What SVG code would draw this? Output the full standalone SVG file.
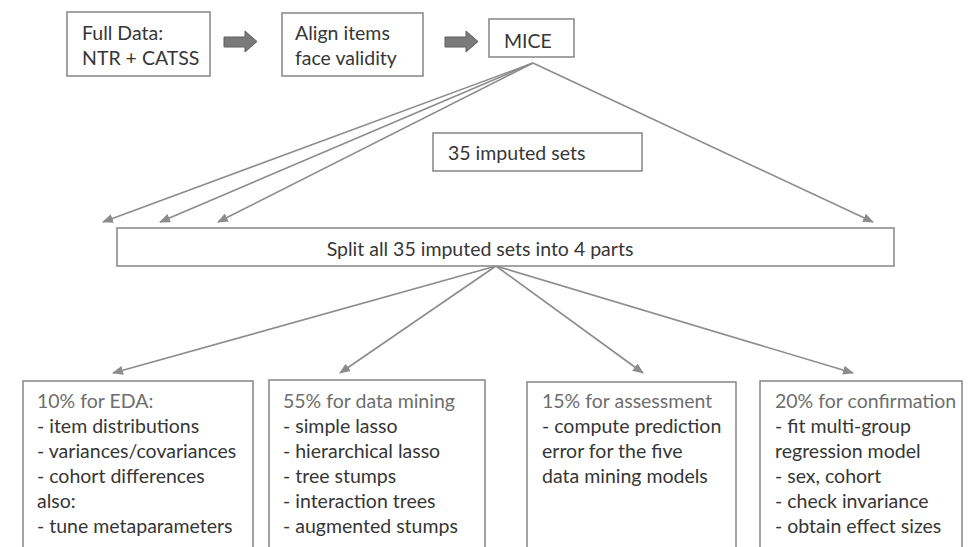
<svg xmlns="http://www.w3.org/2000/svg" width="970" height="547" viewBox="0 0 970 547">
<style>
  .box { fill: #ffffff; stroke: #8c8c8c; stroke-width: 1.6; }
  .t { font-family: Lato, "Open Sans", "Liberation Sans", sans-serif; font-size: 19.5px; fill: #363636; }
  .h { fill: #6e6e6e; }
  .conn { stroke: #8c8c8c; stroke-width: 1.6; fill: none; }
  .blk { fill: #7a7a7a; stroke: #5e5e5e; stroke-width: 1; }
</style>
<defs>
  <marker id="ah" markerWidth="11" markerHeight="9" refX="10" refY="4.5" orient="auto" markerUnits="userSpaceOnUse">
    <path d="M0,0 L11,4.5 L0,9 Z" fill="#8c8c8c"/>
  </marker>
</defs>
<rect width="970" height="547" fill="#ffffff"/>

<g id="connectors">
  <path class="blk" d="M224,37 L245,37 L245,31 L257,41.5 L245,52 L245,47 L224,47 Z"/>
  <path class="blk" d="M445,37 L466,37 L466,31 L478,41.5 L466,52 L466,47 L445,47 Z"/>
  <line class="conn" x1="533" y1="63" x2="103" y2="222" marker-end="url(#ah)"/>
  <line class="conn" x1="533" y1="63" x2="160" y2="222" marker-end="url(#ah)"/>
  <line class="conn" x1="533" y1="63" x2="218" y2="222" marker-end="url(#ah)"/>
  <line class="conn" x1="533" y1="63" x2="873" y2="222" marker-end="url(#ah)"/>
  <line class="conn" x1="496" y1="266" x2="113" y2="373" marker-end="url(#ah)"/>
  <line class="conn" x1="496" y1="266" x2="340" y2="373" marker-end="url(#ah)"/>
  <line class="conn" x1="496" y1="266" x2="643" y2="373" marker-end="url(#ah)"/>
  <line class="conn" x1="496" y1="266" x2="853" y2="373" marker-end="url(#ah)"/>
</g>

<g id="full-data">
  <rect class="box" x="67" y="12" width="143" height="64"/>
  <text class="t" x="82" y="40">Full Data:</text>
  <text class="t" x="82" y="65">NTR + CATSS</text>
</g>

<g id="align-items">
  <rect class="box" x="282" y="13" width="141" height="63"/>
  <text class="t" x="295" y="40">Align items</text>
  <text class="t" x="295" y="65">face validity</text>
</g>

<g id="mice">
  <rect class="box" x="489" y="19" width="85" height="38"/>
  <text class="t" x="504" y="48">MICE</text>
</g>

<g id="imputed-sets">
  <rect class="box" x="433" y="133" width="209" height="38"/>
  <text class="t" x="448" y="160">35 imputed sets</text>
</g>

<g id="split">
  <rect class="box" x="117" y="228" width="777" height="38"/>
  <text class="t" x="480" y="256" text-anchor="middle">Split all 35 imputed sets into 4 parts</text>
</g>

<g id="eda">
  <rect class="box" x="23" y="381" width="230" height="180"/>
  <text class="t h" x="37" y="408">10% for EDA:</text>
  <text class="t" x="37" y="433">- item distributions</text>
  <text class="t" x="37" y="458">- variances/covariances</text>
  <text class="t" x="37" y="483">- cohort differences</text>
  <text class="t" x="37" y="508">also:</text>
  <text class="t" x="37" y="533">- tune metaparameters</text>
</g>

<g id="data-mining">
  <rect class="box" x="269" y="380" width="216" height="181"/>
  <text class="t h" x="283" y="408">55% for data mining</text>
  <text class="t" x="283" y="433">- simple lasso</text>
  <text class="t" x="283" y="458">- hierarchical lasso</text>
  <text class="t" x="283" y="483">- tree stumps</text>
  <text class="t" x="283" y="508">- interaction trees</text>
  <text class="t" x="283" y="533">- augmented stumps</text>
</g>

<g id="assessment">
  <rect class="box" x="527" y="382" width="209" height="179"/>
  <text class="t h" x="542" y="408">15% for assessment</text>
  <text class="t" x="542" y="433">- compute prediction</text>
  <text class="t" x="542" y="458">error for the five</text>
  <text class="t" x="542" y="483">data mining models</text>
</g>

<g id="confirmation">
  <rect class="box" x="760" y="381" width="202" height="180"/>
  <text class="t h" x="775" y="408">20% for confirmation</text>
  <text class="t" x="775" y="433">- fit multi-group</text>
  <text class="t" x="775" y="458">regression model</text>
  <text class="t" x="775" y="483">- sex, cohort</text>
  <text class="t" x="775" y="508">- check invariance</text>
  <text class="t" x="775" y="533">- obtain effect sizes</text>
</g>
</svg>
